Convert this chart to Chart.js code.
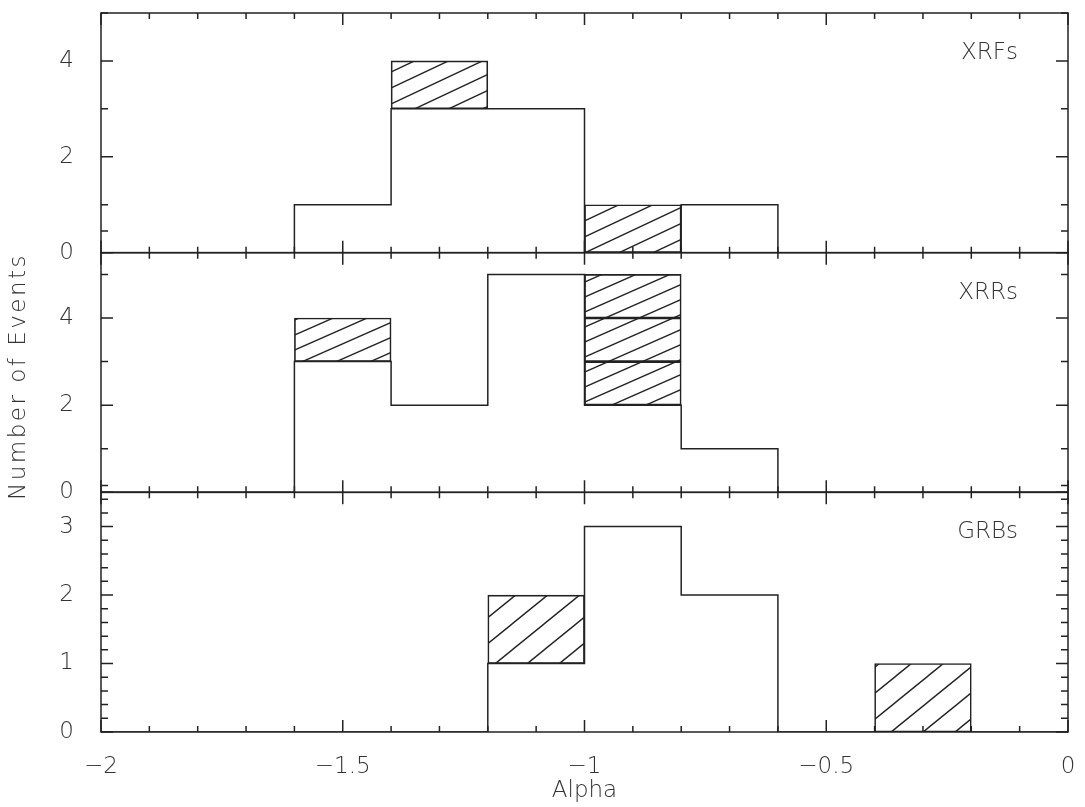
<!DOCTYPE html>
<html>
<head>
<meta charset="utf-8">
<script src="https://cdn.jsdelivr.net/npm/chart.js@4.4.1/dist/chart.umd.min.js"></script>
<style>
  html, body { margin: 0; padding: 0; background: #fff; }
  #wrap { width: 1085px; height: 807px; }
</style>
</head>
<body>
<div id="wrap"><canvas id="alphaChart"></canvas></div>
<script>
// left edges of the alpha bins (width 0.2)
const binEdges = [-2.0, -1.8, -1.6, -1.4, -1.2, -1.0, -0.8, -0.6, -0.4, -0.2];
const binWidth = 0.2;

// open (unhatched) counts per bin
const xrfOpen = [0, 0, 1, 3, 3, 0, 1, 0, 0, 0];
const xrrOpen = [0, 0, 3, 2, 5, 2, 1, 0, 0, 0];
const grbOpen = [0, 0, 0, 0, 1, 3, 2, 0, 0, 0];

// hatched counts stacked on top of the open ones
const xrfHatched = [0, 0, 0, 1, 0, 1, 0, 0, 0, 0];
const xrrHatched = [0, 0, 1, 0, 0, 3, 0, 0, 0, 0];
const grbHatched = [0, 0, 0, 0, 1, 0, 0, 0, 1, 0];

const panelNames = ['XRFs', 'XRRs', 'GRBs'];
const xTickLabels = [-2, -1.5, -1, -0.5, 0];
const xrfTicks = [0, 2, 4];
const xrrTicks = [0, 2, 4];
const grbTicks = [0, 1, 2, 3];

const ink = '#222';
const textCol = '#333';
const fontFam = '"DejaVu Sans", "Liberation Sans", sans-serif';
const fontW = '200';

// diagonal hatch tile, lines rising to the right
function makeHatch(w, h) {
  const c = document.createElement('canvas');
  c.width = w; c.height = h;
  const g = c.getContext('2d');
  g.strokeStyle = ink;
  g.lineWidth = 1.4;
  for (let s = -1; s <= 1; s++) {
    g.beginPath();
    g.moveTo(s * w - w, 2 * h);
    g.lineTo(s * w + 2 * w, -h);
    g.stroke();
  }
  return g.createPattern(c, 'repeat');
}

// outline of the open histogram as a step line
function stepPoints(open) {
  const pts = binEdges.map((e, i) => ({x: e, y: open[i]}));
  pts.push({x: binEdges[binEdges.length - 1] + binWidth, y: 0});
  return pts;
}

// one box per hatched event
function hatchBoxes(open, hatched) {
  const out = [];
  binEdges.forEach((e, i) => {
    for (let k = 0; k < hatched[i]; k++) {
      out.push({x: e + binWidth / 2, y: [open[i] + k, open[i] + k + 1]});
    }
  });
  return out;
}

// top to bottom
const panels = [
  {axis: 'yXRF', name: panelNames[0], open: xrfOpen, hatched: xrfHatched, ticks: xrfTicks, max: 5, minor: 1, hatch: makeHatch(34, 16)},
  {axis: 'yXRR', name: panelNames[1], open: xrrOpen, hatched: xrrHatched, ticks: xrrTicks, max: 5.5, minor: 1, hatch: makeHatch(34, 15)},
  {axis: 'yGRB', name: panelNames[2], open: grbOpen, hatched: grbHatched, ticks: grbTicks, max: 3.5, minor: 0.2, hatch: makeHatch(32, 26)}
];

const datasets = [];
panels.forEach(p => {
  datasets.push({
    type: 'line',
    data: stepPoints(p.open),
    yAxisID: p.axis,
    stepped: true,
    borderColor: ink,
    borderWidth: 1.5,
    pointRadius: 0,
    fill: false
  });
  datasets.push({
    type: 'bar',
    data: hatchBoxes(p.open, p.hatched),
    yAxisID: p.axis,
    backgroundColor: p.hatch,
    borderColor: ink,
    borderWidth: 1,
    borderSkipped: false,
    grouped: false,
    barPercentage: 1,
    categoryPercentage: 1
  });
});

function fmt(v) {
  return v < 0 ? '\u2212' + Math.abs(v) : String(v);
}

const scales = {
  x: {
    type: 'linear',
    min: -2,
    max: 0,
    offset: false,
    grid: {display: false},
    border: {display: false},
    afterBuildTicks: s => { s.ticks = xTickLabels.map(v => ({value: v})); },
    afterFit: s => { s.height = 75; s.paddingLeft = 0; s.paddingRight = 0; },
    ticks: {
      autoSkip: false,
      maxRotation: 0,
      padding: 13,
      color: textCol,
      font: {family: fontFam, size: 23, weight: fontW},
      callback: v => fmt(v)
    },
    title: {
      display: true,
      text: 'Alpha',
      color: textCol,
      font: {family: fontFam, size: 23, weight: fontW},
      padding: {top: 0, bottom: 2}
    }
  }
};

// stacked left axes are placed bottom-up, so add them in reverse
panels.slice().reverse().forEach(p => {
  scales[p.axis] = {
    type: 'linear',
    position: 'left',
    stack: 'panels',
    stackWeight: 1,
    min: 0,
    max: p.max,
    grid: {display: false},
    border: {display: false},
    afterBuildTicks: s => { s.ticks = p.ticks.map(v => ({value: v})); },
    afterFit: s => { s.width = 101; s.paddingTop = 0; s.paddingBottom = 0; },
    ticks: {
      autoSkip: false,
      padding: 19,
      color: textCol,
      font: {family: fontFam, size: 23, weight: fontW},
      callback: v => fmt(v)
    }
  };
});

// frames, inward ticks on all sides, panel names and the y title
const frameTicks = {
  id: 'frameTicks',
  afterDatasetsDraw(chart) {
    const ctx = chart.ctx;
    const xs = chart.scales.x;
    const left = chart.chartArea.left;
    const right = chart.chartArea.right;
    ctx.save();
    ctx.strokeStyle = ink;
    ctx.lineWidth = 1.5;
    panels.forEach(p => {
      const ys = chart.scales[p.axis];
      const top = ys.top;
      const bottom = ys.bottom;
      ctx.strokeRect(left, top, right - left, bottom - top);
      ctx.beginPath();
      for (let i = 0; i <= 20; i++) {
        const px = xs.getPixelForValue(-2 + i * 0.1);
        const len = i % 5 === 0 ? 12 : 6;
        ctx.moveTo(px, bottom); ctx.lineTo(px, bottom - len);
        ctx.moveTo(px, top); ctx.lineTo(px, top + len);
      }
      const n = Math.round(p.max / p.minor);
      for (let k = 0; k <= n; k++) {
        const v = k * p.minor;
        const py = ys.getPixelForValue(v);
        const major = p.ticks.some(t => Math.abs(t - v) < 1e-6);
        const len = major ? 12 : 7;
        ctx.moveTo(left, py); ctx.lineTo(left + len, py);
        ctx.moveTo(right, py); ctx.lineTo(right - len, py);
      }
      ctx.stroke();
      ctx.fillStyle = textCol;
      ctx.font = fontW + ' 23px ' + fontFam;
      ctx.textAlign = 'right';
      ctx.textBaseline = 'middle';
      ctx.fillText(p.name, right - 50, top + 40);
    });

    // y title, a little spaced out like the original
    const mid = chart.scales[panels[1].axis];
    ctx.translate(19, (mid.top + mid.bottom) / 2 + 4);
    ctx.rotate(-Math.PI / 2);
    ctx.letterSpacing = '2.5px';
    ctx.textAlign = 'center';
    ctx.fillText('Number of Events', 0, 0);
    ctx.restore();
  }
};

new Chart(document.getElementById('alphaChart'), {
  type: 'bar',
  data: {datasets: datasets},
  options: {
    responsive: true,
    maintainAspectRatio: false,
    animation: false,
    layout: {padding: {top: 13, right: 17, left: 0, bottom: 0}},
    plugins: {legend: {display: false}, tooltip: {enabled: false}},
    scales: scales
  },
  plugins: [frameTicks]
});
</script>
</body>
</html>
